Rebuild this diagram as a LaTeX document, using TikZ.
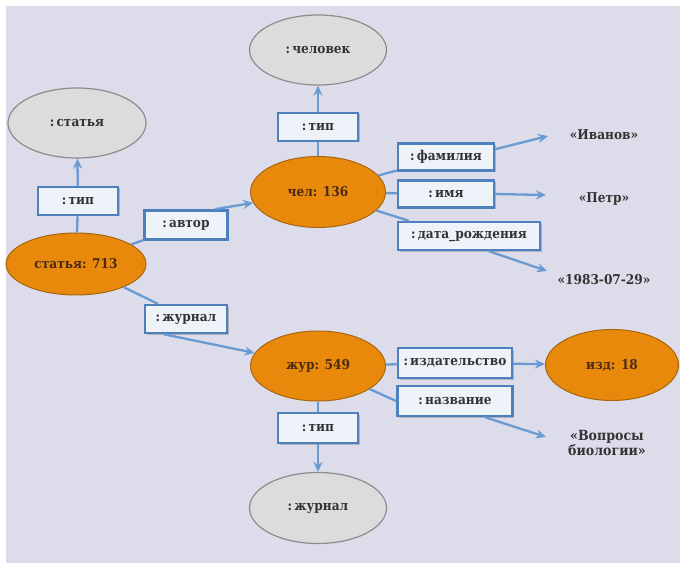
\documentclass[tikz,border=0pt]{standalone}
\usepackage{fontspec}
\setmainfont{DejaVu Serif Condensed}
\usetikzlibrary{shapes.geometric,arrows.meta,shadows}
\definecolor{bgc}{HTML}{DDDCEA}
\definecolor{orf}{HTML}{E8890C}
\definecolor{ord}{HTML}{A8660F}
\definecolor{grf}{HTML}{DCDCDC}
\definecolor{grd}{HTML}{8C8C8C}
\definecolor{bxd}{HTML}{4E80BE}
\definecolor{bxf}{HTML}{EEF3FA}
\definecolor{lnc}{HTML}{6A9AD2}
\definecolor{txc}{HTML}{333333}
\definecolor{txo}{HTML}{4A2A10}
\begin{document}
\begin{tikzpicture}[x=1pt,y=-1pt,
  font=\fontsize{13.5}{15}\selectfont\bfseries,
  objnode/.style={ellipse,fill=orf,draw=ord,line width=1pt,inner sep=0pt,text=txo},
  typenode/.style={ellipse,fill=grf,draw=grd,line width=1.2pt,inner sep=0pt,text=txc},
  relbox/.style={rectangle,draw=bxd,line width=2.5pt,fill=bxf,inner sep=0pt,text=txc,
    drop shadow={shadow xshift=1.5pt,shadow yshift=-1.5pt,fill=black,opacity=0.2}},
  valnode/.style={text=txc,inner sep=2pt,align=center},
  conn/.style={draw=lnc,line width=2.3pt},
  arr/.style={conn,-{Stealth[length=10pt,width=9pt]}}]
\useasboundingbox (0,0) rectangle (680,564);
\fill[white] (0,0) rectangle (680,564);
\fill[bgc] (6,6) rectangle (680,563);
% nodes
\node[typenode,minimum width=137pt,minimum height=70pt] (typeP) at (318,50) {:\,человек};
\node[relbox,minimum width=80pt,minimum height=28pt] (tipP) at (318,127) {:\,тип};
\node[objnode,minimum width=135pt,minimum height=71pt] (pers) at (318,192) {чел: 136};
\node[typenode,minimum width=138pt,minimum height=70pt] (typeA) at (77,123) {:\,статья};
\node[relbox,minimum width=80pt,minimum height=28pt] (tipA) at (78,201) {:\,тип};
\node[objnode,minimum width=140pt,minimum height=62pt] (art) at (76,264) {статья: 713};
\node[relbox,minimum width=83pt,minimum height=29pt] (avtor) at (186,225) {:\,автор};
\node[relbox,minimum width=96pt,minimum height=27pt] (fam) at (446,157) {:\,фамилия};
\node[relbox,minimum width=96pt,minimum height=27pt] (imya) at (446,194) {:\,имя};
\node[relbox,minimum width=142pt,minimum height=28pt] (dr) at (469,236) {:\,дата\_рождения};
\node[valnode] (ivanov) at (604,135) {«Иванов»};
\node[valnode] (petr) at (604,199) {«Петр»};
\node[valnode] (date) at (604,280) {«1983-07-29»};
\node[relbox,minimum width=82pt,minimum height=28pt] (zhurnal) at (186,319) {:\,журнал};
\node[objnode,minimum width=135pt,minimum height=70pt] (jur) at (318,366) {жур: 549};
\node[relbox,minimum width=80pt,minimum height=30pt] (tipJ) at (318,428) {:\,тип};
\node[typenode,minimum width=137pt,minimum height=71pt] (typeJ) at (318,508) {:\,журнал};
\node[relbox,minimum width=114pt,minimum height=30pt] (izdat) at (455,363) {:\,издательство};
\node[objnode,minimum width=133pt,minimum height=71pt] (izd) at (612,365) {изд: 18};
\node[relbox,minimum width=115pt,minimum height=30pt] (nazv) at (455,401) {:\,название};
\node[valnode,font=\fontsize{14}{15}\selectfont\bfseries] (vopr) at (607,443) {«Вопросы\\биологии»};
\coordinate (tIv) at (548,136);
\coordinate (tPe) at (546,195);
\coordinate (tDa) at (547,271);
\coordinate (tVo) at (546,437);
% connectors
\draw[conn] (pers) -- (tipP);
\draw[arr] (tipP) -- (typeP);
\draw[conn] (art) -- (tipA);
\draw[arr] (tipA) -- (typeA);
\draw[conn] (art) -- (avtor);
\draw[arr] ([xshift=-14pt]avtor.north east) -- (pers);
\draw[conn] (pers) -- (fam);
\draw[arr] ([yshift=-7pt]fam.north east) -- (tIv);
\draw[conn] (pers) -- (imya);
\draw[arr] (imya.east) -- (tPe);
\draw[conn] (pers) -- ([xshift=12pt]dr.north west);
\draw[arr] ([xshift=20pt]dr.south) -- (tDa);
\draw[conn] (art) -- ([xshift=14pt]zhurnal.north west);
\draw[arr] ([xshift=20pt]zhurnal.south west) -- (jur);
\draw[conn] (jur) -- (tipJ);
\draw[arr] (tipJ) -- (typeJ);
\draw[conn] (jur) -- (izdat);
\draw[arr] (izdat) -- (izd);
\draw[conn] (jur) -- (nazv.west);
\draw[arr] ([xshift=30pt]nazv.south) -- (tVo);
\end{tikzpicture}
\end{document}
